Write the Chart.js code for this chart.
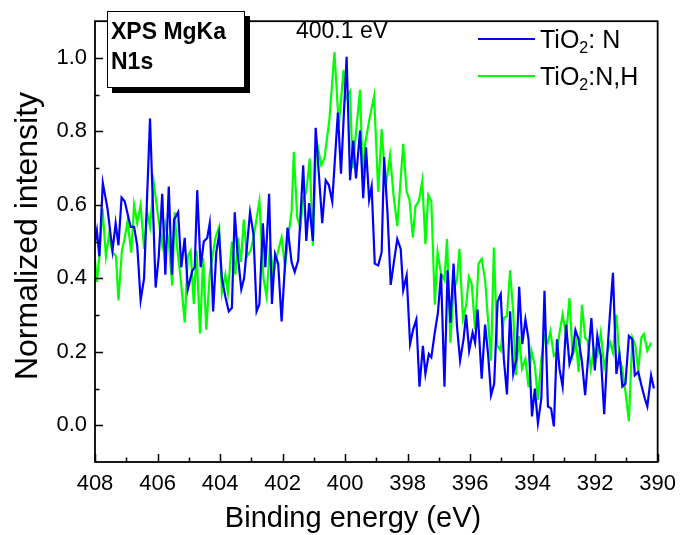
<!DOCTYPE html>
<html>
<head>
<meta charset="utf-8">
<script src="https://cdn.jsdelivr.net/npm/chart.js@4.4.1/dist/chart.umd.min.js"></script>
<style>
body { margin: 0; background: #fff; }
</style>
</head>
<body>
<canvas id="chart" width="685" height="535"></canvas>
<script>
// TiO2: N (blue)
const blueE = [408.0, 407.94, 407.86, 407.75, 407.6, 407.44, 407.34, 407.25, 407.15, 407.05, 406.86, 406.75, 406.65, 406.54, 406.43, 406.24, 406.06, 405.96, 405.85, 405.75, 405.64, 405.54,
  405.47, 405.34, 405.24, 405.13, 405.03, 404.89, 404.81, 404.73, 404.62, 404.52, 404.41, 404.33, 404.22, 404.12, 404.03, 403.94, 403.83, 403.72, 403.62, 403.53, 403.44, 403.32, 403.23, 403.04, 402.93, 402.83, 402.74, 402.63, 402.55, 402.43, 402.34,
  402.24, 402.14, 402.03, 401.92, 401.84, 401.71, 401.61, 401.5, 401.34, 401.24, 401.15, 401.03, 400.94, 400.73, 400.62, 400.52, 400.41, 400.23, 400.13, 399.95, 399.84, 399.74, 399.65, 399.52, 399.42, 399.33, 399.23, 399.15, 399.05,
  398.94, 398.83, 398.75, 398.64, 398.54, 398.43, 398.33, 398.22, 398.14, 398.03, 397.92, 397.82, 397.72, 397.62, 397.51, 397.43, 397.32, 397.24, 397.13, 397.03, 396.93, 396.82, 396.72, 396.63, 396.53, 396.42, 396.32, 396.21, 396.13, 396.03,
  395.92, 395.84, 395.76, 395.63, 395.52, 395.42, 395.33, 395.23, 395.12, 395.02, 394.92, 394.82, 394.72, 394.62, 394.52, 394.43, 394.33, 394.23, 394.13, 394.02, 393.93, 393.83, 393.72, 393.62, 393.51, 393.41, 393.32, 393.22,
  393.14, 393.04, 392.93, 392.82, 392.72, 392.63, 392.53, 392.42, 392.32, 392.21, 392.12, 392.01, 391.93, 391.82, 391.71, 391.61, 391.52, 391.43, 391.32, 391.22, 391.13, 391.03, 390.92, 390.81, 390.73, 390.62, 390.52, 390.41, 390.33, 390.21, 390.12];
const blueI = [0.50, 0.53, 0.46, 0.66, 0.59, 0.475, 0.55, 0.49, 0.62, 0.61, 0.54, 0.54, 0.49, 0.34, 0.40, 0.835, 0.375, 0.46, 0.63, 0.41, 0.65, 0.41,
  0.56, 0.58, 0.43, 0.51, 0.37, 0.42, 0.43, 0.64, 0.43, 0.50, 0.51, 0.55, 0.31, 0.47, 0.52, 0.40, 0.35, 0.31, 0.32, 0.58, 0.47, 0.37, 0.40, 0.58, 0.52, 0.31, 0.33, 0.55, 0.43, 0.63, 0.33,
  0.466, 0.44, 0.283, 0.44, 0.538, 0.444, 0.417, 0.449, 0.708, 0.502, 0.605, 0.502, 0.81, 0.55, 0.667, 0.654, 0.609, 0.851, 0.685, 1.003, 0.667, 0.775, 0.672, 0.802, 0.618, 0.757, 0.614, 0.65, 0.44,
  0.435, 0.471, 0.73, 0.574, 0.382, 0.449, 0.507, 0.48, 0.368, 0.408, 0.221, 0.261, 0.288, 0.105, 0.216, 0.14, 0.194, 0.185, 0.252, 0.306, 0.413, 0.105, 0.422, 0.279, 0.44, 0.27, 0.176, 0.234, 0.301, 0.203,
  0.252, 0.225, 0.315, 0.127, 0.274, 0.189, 0.082, 0.113, 0.337, 0.357, 0.18, 0.084, 0.31, 0.14, 0.18, 0.377, 0.221, 0.288, 0.234, 0.024, 0.1, 0.006, 0.073, 0.366, 0.051, 0.046, -0.003, 0.234,
  0.154, 0.105, 0.274, 0.167, 0.198, 0.259, 0.234, 0.172, 0.082, 0.198, 0.292, 0.149, 0.243, 0.19, 0.03, 0.198, 0.31, 0.415, 0.14, 0.194, 0.105, 0.113, 0.243, 0.234, 0.136, 0.145, 0.109, 0.073, 0.051, 0.136, 0.1];

// TiO2:N,H (green)
const greenE = [408.0, 407.94, 407.86, 407.76, 407.65, 407.55, 407.44, 407.33, 407.25, 407.14, 407.05, 406.96, 406.84, 406.75, 406.65, 406.54, 406.43, 406.33, 406.24, 406.12, 405.96, 405.85, 405.75, 405.64, 405.53,
  405.45, 405.38, 405.26, 405.13, 405.03, 404.94, 404.84, 404.75, 404.64, 404.54, 404.44, 404.33, 404.15, 404.03, 403.94, 403.83, 403.75, 403.62, 403.51, 403.43, 403.33, 403.24, 403.14, 403.02, 402.93, 402.74, 402.61, 402.51, 402.4, 402.3,
  402.19, 402.03, 401.92, 401.82, 401.71, 401.64, 401.53, 401.43, 401.34, 401.24, 401.13, 401.03, 400.92, 400.76, 400.66, 400.5, 400.34, 400.2, 400.05, 399.99, 399.84, 399.76, 399.65, 399.52, 399.44, 399.35, 399.23, 399.07,
  398.94, 398.83, 398.7, 398.56, 398.45, 398.33, 398.14, 398.03, 397.94, 397.83, 397.75, 397.64, 397.53, 397.43, 397.34, 397.24, 397.13, 397.04, 396.93, 396.82, 396.74, 396.63, 396.53, 396.42, 396.34, 396.23, 396.12, 396.04,
  395.95, 395.84, 395.73, 395.63, 395.52, 395.42, 395.33, 395.24, 395.13, 395.02, 394.92, 394.82, 394.72, 394.62, 394.54, 394.43, 394.34, 394.23, 394.13, 394.04, 393.93, 393.83, 393.72, 393.62, 393.51, 393.43, 393.32, 393.22,
  393.14, 393.04, 392.93, 392.82, 392.72, 392.61, 392.53, 392.42, 392.32, 392.24, 392.14, 392.03, 391.93, 391.82, 391.71, 391.61, 391.52, 391.43, 391.32, 391.22, 391.13, 391.03, 390.92, 390.81, 390.71, 390.62, 390.52, 390.44, 390.33, 390.21];
const greenI = [0.45, 0.39, 0.46, 0.59, 0.46, 0.52, 0.47, 0.46, 0.34, 0.475, 0.51, 0.555, 0.47, 0.60, 0.55, 0.60, 0.48, 0.58, 0.54, 0.66, 0.555, 0.49, 0.55, 0.50, 0.38,
  0.58, 0.49, 0.40, 0.28, 0.46, 0.475, 0.33, 0.475, 0.25, 0.455, 0.26, 0.41, 0.51, 0.54, 0.36, 0.41, 0.36, 0.50, 0.41, 0.51, 0.445, 0.56, 0.46, 0.475, 0.51, 0.61, 0.40, 0.35, 0.49, 0.41,
  0.458, 0.511, 0.431, 0.511, 0.583, 0.744, 0.565, 0.538, 0.618, 0.636, 0.726, 0.489, 0.779, 0.708, 0.726, 0.833, 1.016, 0.815, 0.967, 0.887, 0.909, 0.699, 0.797, 0.913, 0.685, 0.77, 0.829, 0.896,
  0.636, 0.806, 0.65, 0.735, 0.627, 0.542, 0.766, 0.636, 0.614, 0.511, 0.596, 0.61, 0.665, 0.493, 0.627, 0.61, 0.328, 0.471, 0.413, 0.395, 0.507, 0.225, 0.368, 0.395, 0.48, 0.29, 0.33, 0.404,
  0.386, 0.261, 0.44, 0.453, 0.395, 0.279, 0.176, 0.484, 0.216, 0.203, 0.292, 0.297, 0.422, 0.306, 0.136, 0.243, 0.154, 0.18, 0.104, 0.203, 0.163, 0.069, 0.18, 0.243, 0.225, 0.256, 0.189, 0.198,
  0.252, 0.301, 0.243, 0.346, 0.19, 0.225, 0.145, 0.328, 0.239, 0.23, 0.154, 0.207, 0.19, 0.252, 0.158, 0.198, 0.225, 0.198, 0.301, 0.181, 0.154, 0.091, 0.011, 0.239, 0.216, 0.149, 0.239, 0.248, 0.203, 0.225];

const xTicks = [408, 406, 404, 402, 400, 398, 396, 394, 392, 390];
const xMinor = [407, 405, 403, 401, 399, 397, 395, 393, 391];
const yTicks = [0.0, 0.2, 0.4, 0.6, 0.8, 1.0];
const yMinor = [0.1, 0.3, 0.5, 0.7, 0.9];

const FONT = '"Liberation Sans", Arial, sans-serif';

function pts(xs, ys) {
  return xs.map((x, i) => ({ x: x, y: ys[i] }));
}

// frame, inward ticks, text box, annotation, legend and axis titles
const decorations = {
  id: 'decorations',
  afterDraw(chart) {
    const ctx = chart.ctx;
    const a = chart.chartArea;
    const xs = chart.scales.x;
    const ys = chart.scales.y;
    ctx.save();
    ctx.strokeStyle = '#000';
    ctx.lineWidth = 1.8;
    ctx.strokeRect(a.left, a.top, a.right - a.left, a.bottom - a.top);

    ctx.lineWidth = 1.5;
    ctx.beginPath();
    xTicks.forEach(v => {
      const p = Math.round(xs.getPixelForValue(v)) + 0.5;
      ctx.moveTo(p, a.bottom); ctx.lineTo(p, a.bottom - 8);
    });
    xMinor.forEach(v => {
      const p = Math.round(xs.getPixelForValue(v)) + 0.5;
      ctx.moveTo(p, a.bottom); ctx.lineTo(p, a.bottom - 4.5);
    });
    yTicks.forEach(v => {
      const p = Math.round(ys.getPixelForValue(v)) + 0.5;
      ctx.moveTo(a.left, p); ctx.lineTo(a.left + 8, p);
    });
    yMinor.forEach(v => {
      const p = Math.round(ys.getPixelForValue(v)) + 0.5;
      ctx.moveTo(a.left, p); ctx.lineTo(a.left + 4.5, p);
    });
    ctx.stroke();

    // text box with shadow
    ctx.fillStyle = '#000';
    ctx.fillRect(112, 16, 138, 77);
    ctx.fillStyle = '#fff';
    ctx.fillRect(107, 11, 138, 77);
    ctx.lineWidth = 1;
    ctx.strokeRect(107.5, 11.5, 137, 76);
    ctx.fillStyle = '#000';
    ctx.font = 'bold 23px ' + FONT;
    ctx.textAlign = 'left';
    ctx.textBaseline = 'alphabetic';
    ctx.fillText('XPS MgKa', 111, 39);
    ctx.fillText('N1s', 111, 69);

    // peak annotation
    ctx.font = '23px ' + FONT;
    ctx.fillText('400.1 eV', 296, 38);

    // legend
    const sets = chart.data.datasets;
    const rows = [39, 76];
    sets.forEach((ds, i) => {
      const y = rows[i];
      ctx.strokeStyle = ds.borderColor;
      ctx.lineWidth = 2;
      ctx.beginPath();
      ctx.moveTo(478, y); ctx.lineTo(535, y);
      ctx.stroke();
      ctx.fillStyle = '#000';
      let x = 540;
      ctx.font = '25px ' + FONT;
      ctx.fillText('TiO', x, y + 9);
      x += ctx.measureText('TiO').width;
      ctx.font = '16px ' + FONT;
      ctx.fillText('2', x, y + 14);
      x += ctx.measureText('2').width;
      ctx.font = '25px ' + FONT;
      ctx.fillText(ds.label.slice(4), x, y + 9);
    });

    // axis titles
    ctx.font = '29px ' + FONT;
    ctx.textAlign = 'center';
    ctx.fillText('Binding energy (eV)', 353, 527);
    ctx.translate(37, 236);
    ctx.rotate(-Math.PI / 2);
    ctx.font = '32px ' + FONT;
    ctx.fillText('Normalized intensity', 0, 0);
    ctx.restore();
  }
};

new Chart(document.getElementById('chart'), {
  type: 'line',
  data: {
    datasets: [
      { label: 'TiO2: N', data: pts(blueE, blueI), borderColor: '#0000ff', borderWidth: 2.2, pointRadius: 0, tension: 0 },
      { label: 'TiO2:N,H', data: pts(greenE, greenI), borderColor: '#00ff00', borderWidth: 2.2, pointRadius: 0, tension: 0 }
    ]
  },
  options: {
    responsive: false,
    animation: false,
    devicePixelRatio: 1,
    layout: { padding: { top: 13, right: 22, left: 0, bottom: 0 } },
    plugins: { legend: { display: false }, tooltip: { enabled: false } },
    scales: {
      x: {
        type: 'linear',
        reverse: true,
        min: 390,
        max: 408,
        afterBuildTicks: s => { s.ticks = xTicks.map(v => ({ value: v })); },
        afterFit: s => { s.height = 73; },
        grid: { display: false, drawTicks: false },
        border: { display: false },
        ticks: { color: '#000', font: { family: FONT, size: 22 }, padding: 9, maxRotation: 0, callback: v => String(v) }
      },
      y: {
        min: -0.1,
        max: 1.1,
        afterBuildTicks: s => { s.ticks = yTicks.map(v => ({ value: v })); },
        afterFit: s => { s.width = 95; },
        grid: { display: false, drawTicks: false },
        border: { display: false },
        ticks: { color: '#000', font: { family: FONT, size: 22 }, padding: 8, callback: v => v.toFixed(1) }
      }
    }
  },
  plugins: [decorations]
});
</script>
</body>
</html>
